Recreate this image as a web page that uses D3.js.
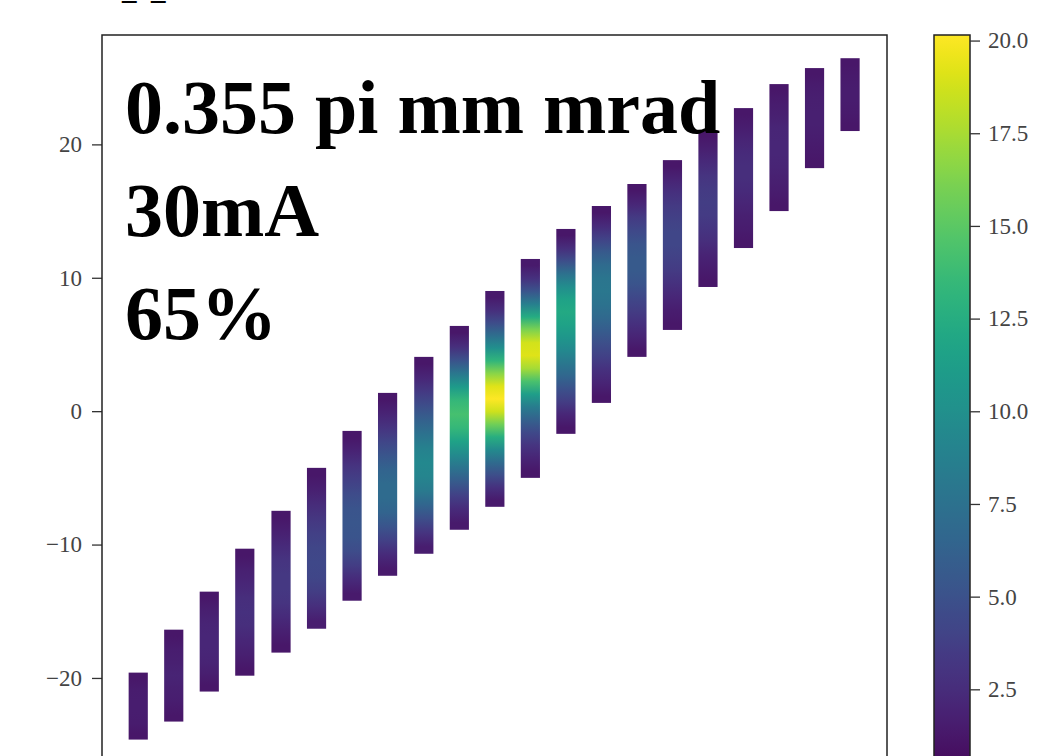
<!DOCTYPE html>
<html>
<head>
<meta charset="utf-8">
<script src="https://cdn.jsdelivr.net/npm/d3@7"></script>
<style>
  html, body { margin: 0; padding: 0; background: #fff; }
  svg { display: block; }
</style>
</head>
<body>
<svg id="chart" width="1042" height="756"></svg>
<script>
// Phase-space slices: centre of each slice on the horizontal axis
const sliceX = [-5.49, -4.99, -4.49, -3.99, -3.48, -2.98, -2.48, -1.98, -1.47, -0.97,
                -0.47, 0.03, 0.53, 1.03, 1.53, 2.03, 2.53, 3.03, 3.53, 4.03, 4.53];

// Upper and lower extent of each slice
const sliceTop = [-19.60, -16.38, -13.53, -10.31, -7.47, -4.25, -1.48, 1.37, 4.07, 6.39,
                  9.01, 11.41, 13.66, 15.38, 17.03, 18.82, 21.07, 22.72, 24.52, 25.72, 26.46];
const sliceBottom = [-24.62, -23.27, -21.02, -19.83, -18.10, -16.31, -14.21, -12.34, -10.69, -8.89,
                     -7.17, -5.00, -1.70, 0.62, 4.07, 6.09, 9.31, 12.23, 15.00, 18.22, 21.00];

// Particle counts along each slice, listed from top to bottom
const sliceCounts = [
  [1.2, 1.5, 1.6, 1.6, 1.5, 1.2],
  [1.2, 1.6, 1.8, 2.0, 1.8, 1.6, 1.2],
  [1.2, 1.7, 2.0, 2.2, 2.2, 2.0, 1.7, 1.2],
  [1.2, 1.8, 2.2, 2.6, 2.8, 2.6, 2.2, 1.8, 1.2],
  [1.2, 1.8, 2.4, 3.0, 3.3, 3.3, 3.0, 2.4, 1.8, 1.2],
  [1.2, 1.8, 2.5, 3.2, 3.8, 4.2, 4.4, 4.2, 3.6, 2.6, 1.6],
  [1.2, 2.0, 3.0, 3.8, 4.6, 5.2, 5.4, 5.2, 4.6, 3.6, 2.4, 1.4],
  [1.2, 2.0, 3.0, 4.2, 5.4, 6.4, 7.0, 7.0, 6.4, 5.2, 3.8, 2.4, 1.4],
  [1.2, 2.2, 3.4, 4.8, 6.2, 7.6, 8.8, 9.4, 9.2, 8.2, 6.6, 4.8, 3.0, 1.6],
  [1.2, 2.6, 5.0, 8.0, 11.0, 13.4, 14.2, 13.4, 11.6, 9.6, 7.6, 5.6, 3.8, 2.4, 1.4],
  [1.4, 2.6, 4.6, 7.2, 10.0, 13.2, 16.6, 19.2, 20.15, 18.6, 15.8, 12.6, 9.6, 7.0, 4.8, 2.8, 1.4],
  [1.4, 2.8, 5.2, 8.6, 12.4, 16.2, 18.8, 19.2, 17.4, 14.4, 11.2, 8.4, 6.2, 4.4, 3.0, 2.0, 1.2],
  [1.2, 2.6, 4.8, 7.4, 9.8, 11.6, 12.2, 11.6, 10.6, 9.4, 8.0, 6.6, 5.0, 3.6, 2.2, 1.2],
  [1.2, 2.4, 4.0, 5.6, 7.0, 7.8, 8.0, 7.6, 6.8, 5.8, 4.8, 3.8, 2.8, 2.0, 1.2],
  [1.2, 2.2, 3.4, 4.4, 5.2, 5.6, 5.6, 5.2, 4.4, 3.6, 2.8, 2.0, 1.2],
  [1.2, 2.0, 2.8, 3.4, 3.9, 4.2, 4.2, 3.9, 3.4, 2.8, 2.2, 1.6, 1.2],
  [1.2, 1.8, 2.4, 3.0, 3.4, 3.6, 3.5, 3.1, 2.6, 2.0, 1.6, 1.2],
  [1.2, 1.6, 2.0, 2.4, 2.6, 2.6, 2.4, 2.1, 1.8, 1.5, 1.2],
  [1.2, 1.5, 1.8, 2.1, 2.2, 2.2, 2.0, 1.8, 1.5, 1.2],
  [1.2, 1.5, 1.7, 1.8, 1.8, 1.6, 1.4, 1.2],
  [1.2, 1.4, 1.5, 1.5, 1.4, 1.2]
];

// Axis ticks and colour range
const yTicks = [-20, -10, 0, 10, 20];
const xTicks = [-4, -2, 0, 2, 4];
const colorTicks = [2.5, 5.0, 7.5, 10.0, 12.5, 15.0, 17.5, 20.0];
const colorMax = 20.15;

// Beam parameters written over the plot
const annotation = ["0.355 pi mm mrad", "30mA", "65%"];
const titleFragment = "_\u2002_";

// ---- layout ----
const svg = d3.select("#chart");
const plot = { left: 102, right: 887, top: 35, bottom: 782 };
const cbar = { left: 934, width: 36, top: 35, bottom: 782 };
const sliceHalfWidth = 0.135;
const serif = "'Liberation Serif', 'Times New Roman', serif";

const x = d3.scaleLinear().domain([-6, 5.05]).range([plot.left, plot.right]);
const y = d3.scaleLinear().domain([-27.8, 28.2]).range([plot.bottom, plot.top]);
const color = d3.scaleSequential(d3.interpolateViridis).domain([0, colorMax]);
const cy = d3.scaleLinear().domain([0, colorMax]).range([cbar.bottom, cbar.top]);

svg.append("rect").attr("width", 1042).attr("height", 756).attr("fill", "#fff");

const defs = svg.append("defs");
defs.append("clipPath").attr("id", "plot-clip")
  .append("rect")
  .attr("x", plot.left).attr("y", plot.top)
  .attr("width", plot.right - plot.left).attr("height", plot.bottom - plot.top);

// one vertical gradient per slice, a stop at the centre of each count cell
sliceCounts.forEach((counts, i) => {
  const g = defs.append("linearGradient")
    .attr("id", "slice-" + i)
    .attr("x1", 0).attr("y1", 0).attr("x2", 0).attr("y2", 1);
  counts.forEach((c, j) => {
    g.append("stop")
      .attr("offset", (j + 0.5) / counts.length)
      .attr("stop-color", color(c));
  });
});

// colour bar gradient
const cg = defs.append("linearGradient")
  .attr("id", "cbar-grad")
  .attr("x1", 0).attr("y1", 1).attr("x2", 0).attr("y2", 0);
d3.range(0, 41).forEach(k => {
  const t = k / 40;
  cg.append("stop").attr("offset", t).attr("stop-color", color(t * colorMax));
});

// ---- slices ----
svg.append("g")
  .attr("clip-path", "url(#plot-clip)")
  .selectAll("rect")
  .data(sliceX)
  .join("rect")
  .attr("x", (d) => x(d - sliceHalfWidth))
  .attr("width", (d) => x(d + sliceHalfWidth) - x(d - sliceHalfWidth))
  .attr("y", (d, i) => y(sliceTop[i]))
  .attr("height", (d, i) => y(sliceBottom[i]) - y(sliceTop[i]))
  .attr("fill", (d, i) => "url(#slice-" + i + ")");

// ---- axes ----
function styleAxis(g) {
  g.select(".domain").remove();
  g.selectAll(".tick line").attr("stroke", "#333").attr("stroke-width", 1.3);
  g.selectAll(".tick text")
    .attr("fill", "#444")
    .style("font-family", serif)
    .style("font-size", "23px");
}

svg.append("g")
  .attr("transform", `translate(${plot.left},0)`)
  .call(d3.axisLeft(y).tickValues(yTicks).tickSize(10).tickPadding(10)
        .tickFormat(d => d3.format("d")(d).replace("-", "\u2212")))
  .call(styleAxis);

svg.append("g")
  .attr("transform", `translate(0,${plot.bottom})`)
  .call(d3.axisBottom(x).tickValues(xTicks).tickSize(10).tickFormat(""))
  .call(styleAxis);

svg.append("rect")
  .attr("x", plot.left).attr("y", plot.top)
  .attr("width", plot.right - plot.left).attr("height", plot.bottom - plot.top)
  .attr("fill", "none").attr("stroke", "#222").attr("stroke-width", 1.5);

// ---- colour bar ----
svg.append("rect")
  .attr("x", cbar.left).attr("y", cbar.top)
  .attr("width", cbar.width).attr("height", cbar.bottom - cbar.top)
  .attr("fill", "url(#cbar-grad)")
  .attr("stroke", "#222").attr("stroke-width", 1.5);

svg.append("g")
  .attr("transform", `translate(${cbar.left + cbar.width},0)`)
  .call(d3.axisRight(cy).tickValues(colorTicks).tickSize(10).tickPadding(8)
        .tickFormat(d3.format(".1f")))
  .call(styleAxis);

// ---- annotation ----
svg.append("g")
  .selectAll("text")
  .data(annotation)
  .join("text")
  .attr("x", 125)
  .attr("y", (d, i) => 133 + i * 103)
  .attr("fill", "#000")
  .style("font-family", serif)
  .style("font-weight", "bold")
  .style("font-size", "76px")
  .text(d => d);

// title line running off the top edge
svg.append("text")
  .attr("x", 122).attr("y", -1)
  .attr("fill", "#000")
  .style("font-family", serif)
  .style("font-weight", "bold")
  .style("font-size", "29px")
  .text(titleFragment);
</script>
</body>
</html>
